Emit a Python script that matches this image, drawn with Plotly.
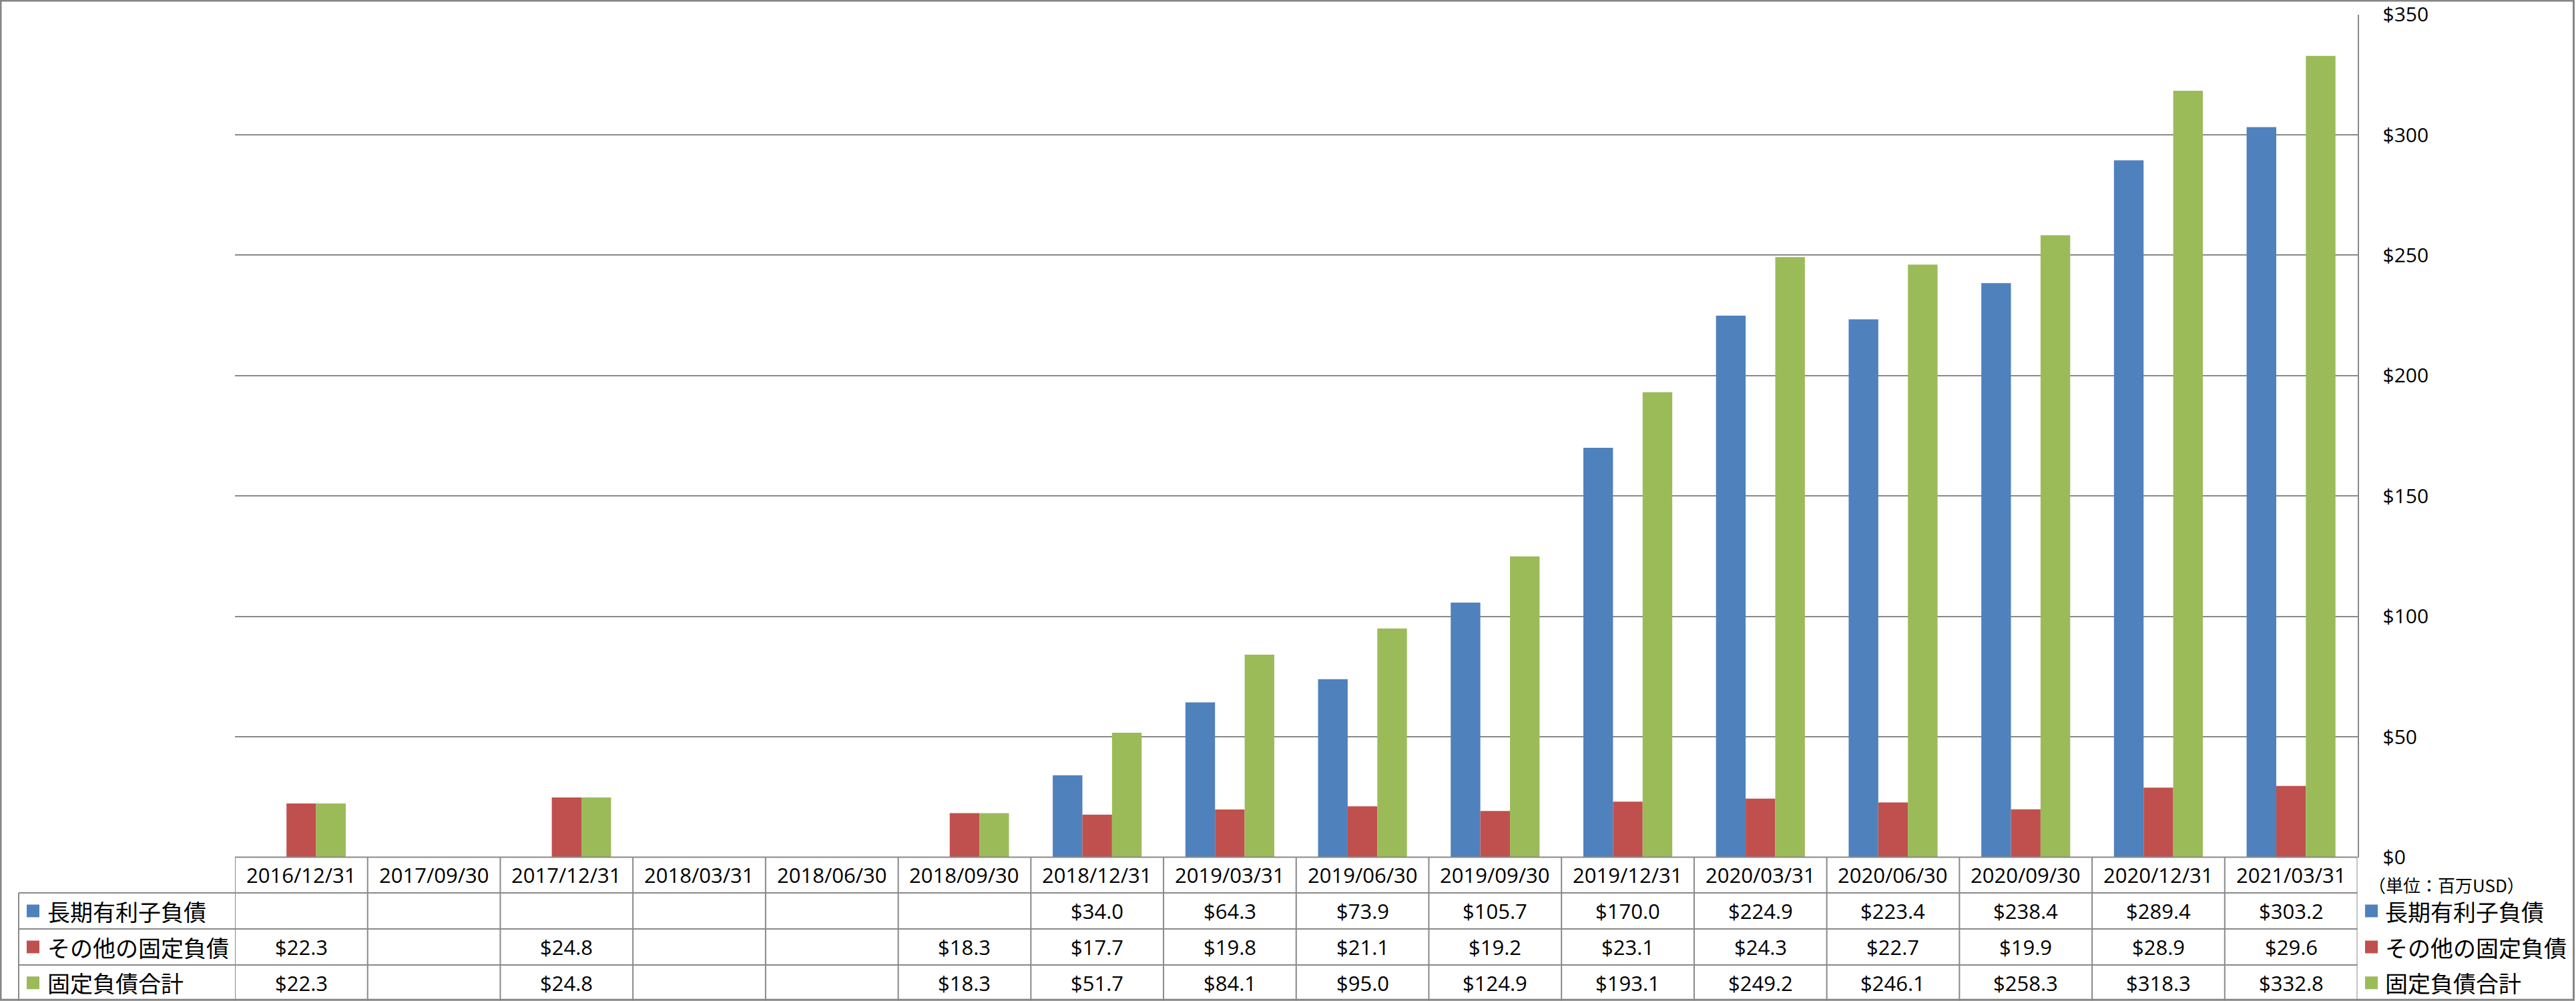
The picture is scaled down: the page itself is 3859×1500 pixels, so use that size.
import plotly.graph_objects as go

# ---------------- data ----------------
categories = ["2016/12/31", "2017/09/30", "2017/12/31", "2018/03/31", "2018/06/30",
              "2018/09/30", "2018/12/31", "2019/03/31", "2019/06/30", "2019/09/30",
              "2019/12/31", "2020/03/31", "2020/06/30", "2020/09/30", "2020/12/31",
              "2021/03/31"]
series_names = ["長期有利子負債", "その他の固定負債", "固定負債合計"]
long_term_debt = [None, None, None, None, None, None, 34.0, 64.3, 73.9, 105.7,
                  170.0, 224.9, 223.4, 238.4, 289.4, 303.2]
other_fixed = [22.3, None, 24.8, None, None, 18.3, 17.7, 19.8, 21.1, 19.2,
               23.1, 24.3, 22.7, 19.9, 28.9, 29.6]
total_fixed = [22.3, None, 24.8, None, None, 18.3, 51.7, 84.1, 95.0, 124.9,
               193.1, 249.2, 246.1, 258.3, 318.3, 332.8]
y_ticks = [0, 50, 100, 150, 200, 250, 300, 350]
unit_label = "（単位：百万USD）"

# ---------------- styling ----------------
W, H = 3859, 1500
colors = ["#4F81BD", "#C0504D", "#9BBB59"]
line_gray = "#898989"
latin_font = "Open Sans, Roboto, DejaVu Sans, sans-serif"
cjk_font = "Noto Sans CJK JP, Noto Sans CJK SC, sans-serif"

def px_x(px):
    return px / W

def px_y(py):
    return 1 - py / H

plot_left, plot_right = 352, 3531.5
plot_top, plot_bottom = 21.6, 1284.5
row_edges = [1284.5, 1338, 1392, 1446, 1499.5]  # header, three data rows
label_left = 28

fig = go.Figure()
all_series = [long_term_debt, other_fixed, total_fixed]
for name, vals, col in zip(series_names, all_series, colors):
    fig.add_trace(go.Bar(x=categories, y=vals, name=name, marker_color=col,
                         marker_line_width=0, showlegend=False, hoverinfo="x+y"))

shapes = []
annotations = []

# table horizontal lines
for i, ry in enumerate(row_edges[:-1]):
    x0 = plot_left if i == 0 else label_left
    shapes.append(dict(type="line", xref="paper", yref="paper",
                       x0=px_x(x0), x1=px_x(plot_right), y0=px_y(ry), y1=px_y(ry),
                       line=dict(color=line_gray, width=2)))
# table vertical lines (category boundaries)
for i in range(len(categories) + 1):
    shapes.append(dict(type="line", xref="x", yref="paper",
                       x0=i - 0.5, x1=i - 0.5, y0=px_y(row_edges[0]), y1=px_y(row_edges[-1]),
                       line=dict(color=line_gray, width=2)))
# left border of label column
shapes.append(dict(type="line", xref="paper", yref="paper",
                   x0=px_x(label_left), x1=px_x(label_left),
                   y0=px_y(row_edges[1]), y1=px_y(row_edges[-1]),
                   line=dict(color=line_gray, width=2)))

# header dates
hdr_c = (row_edges[0] + row_edges[1]) / 2
for c in categories:
    annotations.append(dict(x=c, xref="x", y=px_y(hdr_c), yref="paper", text=c,
                            showarrow=False, xanchor="center", yanchor="middle",
                            font=dict(family=latin_font, size=31, color="black")))

# rows
for r, (name, vals, col) in enumerate(zip(series_names, all_series, colors)):
    cy = (row_edges[r + 1] + row_edges[r + 2]) / 2
    for c, v in zip(categories, vals):
        if v is None:
            continue
        annotations.append(dict(x=c, xref="x", y=px_y(cy), yref="paper",
                                text=f"${v:.1f}", showarrow=False,
                                xanchor="center", yanchor="middle",
                                font=dict(family=latin_font, size=31, color="black")))
    # left legend key
    shapes.append(dict(type="rect", xref="paper", yref="paper",
                       x0=px_x(40), x1=px_x(59), y0=px_y(cy - 9.5), y1=px_y(cy + 9.5),
                       fillcolor=col, line=dict(width=0)))
    annotations.append(dict(x=px_x(69), xref="paper", y=px_y(cy), yref="paper",
                            text=name, showarrow=False, xanchor="left", yanchor="middle",
                            font=dict(family=cjk_font, size=34, color="black")))
    # right legend
    shapes.append(dict(type="rect", xref="paper", yref="paper",
                       x0=px_x(3543), x1=px_x(3562), y0=px_y(cy - 9.5), y1=px_y(cy + 9.5),
                       fillcolor=col, line=dict(width=0)))
    annotations.append(dict(x=px_x(3571), xref="paper", y=px_y(cy), yref="paper",
                            text=name, showarrow=False, xanchor="left", yanchor="middle",
                            font=dict(family=cjk_font, size=34, color="black")))

# unit label
annotations.append(dict(x=px_x(3546), xref="paper", y=px_y(1325), yref="paper",
                        text=unit_label, showarrow=False, xanchor="left", yanchor="middle",
                        font=dict(family=cjk_font, size=26, color="black")))

# outer border
shapes.append(dict(type="rect", xref="paper", yref="paper",
                   x0=px_x(1), x1=px_x(3855.5), y0=px_y(1498.3), y1=px_y(1),
                   line=dict(color="#868686", width=3), fillcolor="rgba(0,0,0,0)"))

fig.update_layout(
    width=W, height=H, autosize=False,
    margin=dict(l=0, r=0, t=0, b=0, pad=0, autoexpand=False),
    paper_bgcolor="white", plot_bgcolor="white",
    barmode="group", bargap=0.33, bargroupgap=0,
    shapes=shapes, annotations=annotations,
    xaxis=dict(type="category", domain=[px_x(plot_left), px_x(plot_right)],
               range=[-0.5, len(categories) - 0.5], showticklabels=False,
               showgrid=False, zeroline=False, showline=False, fixedrange=True,
               automargin=False),
    yaxis=dict(domain=[px_y(plot_bottom), px_y(plot_top)], range=[0, 350],
               side="right", tickmode="array", tickvals=y_ticks,
               ticktext=[f"${t}" for t in y_ticks],
               showgrid=True, gridcolor=line_gray, gridwidth=2,
               zeroline=False, showline=True, linecolor=line_gray, linewidth=2,
               ticks="", ticklabelstandoff=30, automargin=False,
               tickfont=dict(family=latin_font, size=30, color="black"),
               fixedrange=True),
    font=dict(family=latin_font),
)

fig.write_html("out.html", config={"displayModeBar": False},
               post_script="document.body.style.margin='0';document.body.style.overflow='hidden';")
